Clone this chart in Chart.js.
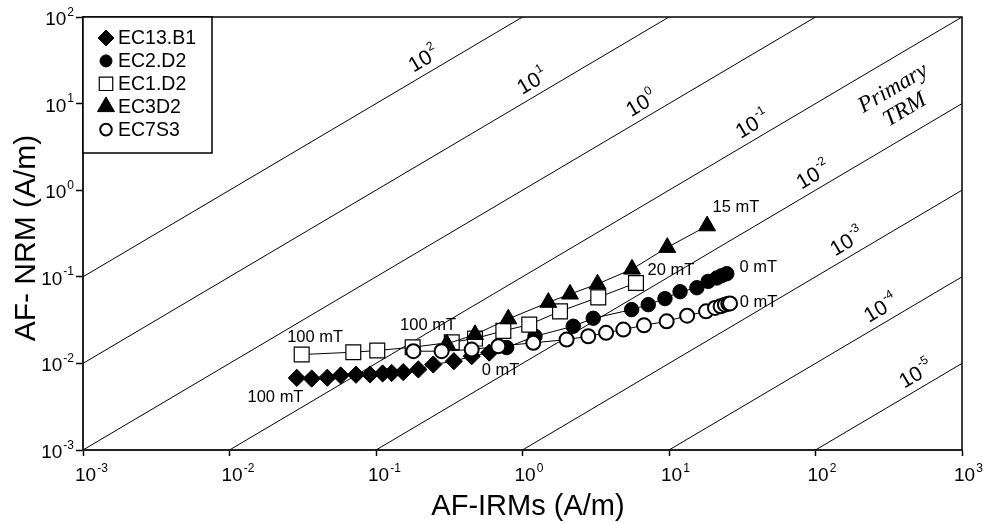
<!DOCTYPE html>
<html>
<head>
<meta charset="utf-8">
<script src="https://cdn.jsdelivr.net/npm/chart.js@4.4.1/dist/chart.umd.min.js"></script>
<style>
  html, body { margin: 0; padding: 0; background: #fff; }
  canvas { display: block; }
</style>
</head>
<body>
<canvas id="c" width="983" height="523"></canvas>
<script>
// Axis decades (A/m)
const xTicks = [1e-3, 1e-2, 1e-1, 1e0, 1e1, 1e2, 1e3];
const yTicks = [1e-3, 1e-2, 1e-1, 1e0, 1e1, 1e2];

// Constant NRM/IRM ratio lines (exponent of the ratio) and where their labels sit (x, A/m)
const ratioExps = [2, 1, 0, -1, -2, -3, -4, -5];
const ratioLabelX = [0.2225, 1.229, 6.82, 38.1, 99, 168, 286, 497];

// AF-IRM (x) and AF-NRM (y) demagnetisation data, A/m
const ec13b1X = [0.0288, 0.0364, 0.0465, 0.0574, 0.0730, 0.0910, 0.111, 0.128, 0.1535, 0.1945, 0.246, 0.340, 0.450, 0.593];
const ec13b1Y = [0.00680, 0.00668, 0.00683, 0.00726, 0.00740, 0.00745, 0.00765, 0.00775, 0.00792, 0.00851, 0.00971, 0.0106, 0.0121, 0.0133];

const ec2d2X = [0.780, 1.217, 2.22, 3.04, 5.56, 7.22, 9.39, 11.9, 15.5, 18.5, 21.2, 22.9, 24.8];
const ec2d2Y = [0.01524, 0.02058, 0.02685, 0.0332, 0.0418, 0.0477, 0.0560, 0.0673, 0.0748, 0.0885, 0.0969, 0.103, 0.1086];

const ec1d2X = [0.0311, 0.070, 0.102, 0.178, 0.329, 0.474, 0.740, 1.112, 1.803, 3.29, 5.95];
const ec1d2Y = [0.01266, 0.01346, 0.01409, 0.01538, 0.01755, 0.01936, 0.02375, 0.02805, 0.0399, 0.0579, 0.0849];

const ec3d2X = [0.304, 0.474, 0.80, 1.50, 2.11, 3.25, 5.59, 9.73, 18.2];
const ec3d2Y = [0.0168, 0.0215, 0.0326, 0.0506, 0.0631, 0.0825, 0.1225, 0.218, 0.387];

const ec7s3X = [0.180, 0.2805, 0.450, 0.684, 1.185, 2.00, 2.81, 3.72, 4.88, 6.75, 9.64, 13.3, 17.9, 20.6, 22.5, 24.1, 25.4, 26.1];
const ec7s3Y = [0.01383, 0.01383, 0.01445, 0.0158, 0.01726, 0.01884, 0.02058, 0.02254, 0.0246, 0.02754, 0.0306, 0.0356, 0.0399, 0.0437, 0.0456, 0.0477, 0.0490, 0.0493];

// AF step annotations placed in data space
const stepText = ['100 mT', '100 mT', '100 mT', '0 mT', '20 mT', '15 mT', '0 mT', '0 mT'];
const stepX = [0.0384, 0.2265, 0.0206, 0.708, 10.3, 28.6, 40.7, 40.8];
const stepY = [0.01986, 0.02735, 0.00404, 0.00828, 0.1175, 0.634, 0.1274, 0.0509];

const sansFont = '"Liberation Sans", Arial, Helvetica, sans-serif';
const serifFont = '"Liberation Serif", "Times New Roman", serif';

function pts(xs, ys) { return xs.map((x, i) => ({ x: x, y: ys[i] })); }

const seriesDefs = [
  { label: 'EC13.B1', xs: ec13b1X, ys: ec13b1Y, style: 'rectRot', r: 8.6, lr: 8, fill: '#000', bw: 1, order: 5 },
  { label: 'EC2.D2', xs: ec2d2X, ys: ec2d2Y, style: 'circle', r: 7.2, lr: 6, fill: '#000', bw: 1, order: 4 },
  { label: 'EC1.D2', xs: ec1d2X, ys: ec1d2Y, style: 'rect', r: 10.5, lr: 9.5, fill: '#fff', bw: 1.2, order: 3 },
  { label: 'EC3D2', xs: ec3d2X, ys: ec3d2Y, style: 'triangle', r: 9.8, lr: 9.8, fill: '#000', bw: 1, order: 2 },
  { label: 'EC7S3', xs: ec7s3X, ys: ec7s3Y, style: 'circle', r: 7, lr: 5.8, fill: '#fff', bw: 2, order: 1 }
];

const xMin = xTicks[0], xMax = xTicks[xTicks.length - 1];

const datasets = seriesDefs.map(s => ({
  label: s.label,
  data: pts(s.xs, s.ys),
  showLine: true,
  borderColor: '#000',
  borderWidth: 1,
  pointStyle: s.style,
  pointRadius: s.r,
  pointBackgroundColor: s.fill,
  pointBorderColor: '#000',
  pointBorderWidth: s.bw,
  order: s.order
}));

ratioExps.forEach(e => {
  const k = Math.pow(10, e);
  datasets.push({
    label: 'ratio 1e' + e,
    data: [{ x: xMin, y: k * xMin }, { x: xMax, y: k * xMax }],
    showLine: true,
    borderColor: '#000',
    borderWidth: 1,
    pointRadius: 0,
    order: 10
  });
});

// "10" with a raised exponent
function drawPower(ctx, exp, x, y, base, sup, align) {
  ctx.font = base + 'px ' + sansFont;
  const w1 = ctx.measureText('10').width;
  ctx.font = sup + 'px ' + sansFont;
  const w2 = ctx.measureText(exp).width;
  const total = w1 + 1 + w2;
  let left = x;
  if (align === 'right') left = x - total;
  else if (align === 'center') left = x - total / 2;
  ctx.textAlign = 'left';
  ctx.textBaseline = 'alphabetic';
  ctx.font = base + 'px ' + sansFont;
  ctx.fillText('10', left, y);
  ctx.font = sup + 'px ' + sansFont;
  ctx.fillText(exp, left + w1 + 1, y - base * 0.5);
}

const decorations = {
  id: 'decorations',
  beforeDraw(chart) {
    const ctx = chart.ctx;
    ctx.save();
    ctx.fillStyle = '#fff';
    ctx.fillRect(0, 0, chart.width, chart.height);
    ctx.restore();
  },
  afterDraw(chart) {
    const ctx = chart.ctx;
    const xs = chart.scales.x, ys = chart.scales.y;
    const a = chart.chartArea;
    ctx.save();

    // frame on top and right
    ctx.strokeStyle = '#000';
    ctx.lineWidth = 1.5;
    ctx.beginPath();
    ctx.moveTo(a.left, a.top);
    ctx.lineTo(a.right, a.top);
    ctx.lineTo(a.right, a.bottom);
    ctx.stroke();

    // tick labels
    ctx.fillStyle = '#000';
    xTicks.forEach(v => {
      const px = xs.getPixelForValue(v);
      drawPower(ctx, String(Math.round(Math.log10(v))), px - 8, a.bottom + 31, 19, 12, 'left');
    });
    yTicks.forEach(v => {
      const py = ys.getPixelForValue(v);
      drawPower(ctx, String(Math.round(Math.log10(v))), 74, py + 8, 19, 12, 'right');
    });

    // ratio line labels, rotated along the lines
    const p1x = xs.getPixelForValue(1), p1y = ys.getPixelForValue(1);
    const p2x = xs.getPixelForValue(10), p2y = ys.getPixelForValue(10);
    const ang = Math.atan2(p2y - p1y, p2x - p1x);
    const nx = Math.sin(ang), ny = -Math.cos(ang);
    ctx.save();
    ctx.beginPath();
    ctx.rect(a.left, a.top, a.right - a.left, a.bottom - a.top);
    ctx.clip();
    ratioExps.forEach((e, i) => {
      const lx = ratioLabelX[i];
      const px = xs.getPixelForValue(lx);
      const py = ys.getPixelForValue(Math.pow(10, e) * lx);
      const cx = px + nx * 14.5, cy = py + ny * 14.5;
      ctx.save();
      ctx.translate(cx, cy);
      ctx.rotate(ang);
      drawPower(ctx, String(e), -11, 7, 21, 12, 'left');
      ctx.restore();
    });

    // primary TRM note
    ctx.font = 'italic 23px ' + serifFont;
    ctx.textAlign = 'center';
    ctx.textBaseline = 'middle';
    [['Primary', 339.6, 14.96], ['TRM', 408, 8.41]].forEach(t => {
      ctx.save();
      ctx.translate(xs.getPixelForValue(t[1]), ys.getPixelForValue(t[2]));
      ctx.rotate(ang);
      ctx.fillText(t[0], 0, 0);
      ctx.restore();
    });
    ctx.restore();

    // AF step annotations
    ctx.font = '16.5px ' + sansFont;
    ctx.textAlign = 'center';
    ctx.textBaseline = 'middle';
    stepText.forEach((t, i) => {
      ctx.fillText(t, xs.getPixelForValue(stepX[i]), ys.getPixelForValue(stepY[i]));
    });

    // legend box
    const lx0 = a.left, ly0 = a.top, lw = 129, lh = 136;
    ctx.fillStyle = '#fff';
    ctx.fillRect(lx0, ly0, lw, lh);
    ctx.strokeStyle = '#000';
    ctx.lineWidth = 1.5;
    ctx.strokeRect(lx0, ly0, lw, lh);
    seriesDefs.forEach((s, i) => {
      const y = ly0 + 21 + i * 22.9;
      ctx.fillStyle = s.fill;
      ctx.strokeStyle = '#000';
      ctx.lineWidth = s.bw;
      Chart.helpers.drawPoint(ctx, { pointStyle: s.style, radius: s.lr, borderWidth: s.bw, rotation: 0 }, lx0 + 23, y);
      ctx.fillStyle = '#000';
      ctx.font = '19.5px ' + sansFont;
      ctx.textAlign = 'left';
      ctx.textBaseline = 'middle';
      ctx.fillText(s.label, lx0 + 35, y + 1);
    });

    // axis titles
    ctx.fillStyle = '#000';
    ctx.font = '29px ' + sansFont;
    ctx.textAlign = 'center';
    ctx.textBaseline = 'alphabetic';
    ctx.fillText('AF-IRMs (A/m)', 528, 515);
    ctx.save();
    ctx.translate(35, 238);
    ctx.rotate(-Math.PI / 2);
    ctx.font = '30px ' + sansFont;
    ctx.fillText('AF- NRM (A/m)', 0, 0);
    ctx.restore();

    ctx.restore();
  }
};

new Chart(document.getElementById('c'), {
  type: 'scatter',
  data: { datasets: datasets },
  options: {
    responsive: false,
    animation: false,
    events: [],
    layout: { padding: { left: 0, top: 17, right: 21, bottom: 0 } },
    plugins: { legend: { display: false }, tooltip: { enabled: false } },
    scales: {
      x: {
        type: 'logarithmic',
        min: xMin,
        max: xMax,
        afterBuildTicks(scale) { scale.ticks = xTicks.map(v => ({ value: v })); },
        afterFit(scale) { scale.height = 73; },
        ticks: { display: false },
        grid: { display: true, drawOnChartArea: false, drawTicks: true, tickLength: 6, tickColor: '#000', tickWidth: 1.5 },
        border: { display: true, color: '#222', width: 2 }
      },
      y: {
        type: 'logarithmic',
        min: yTicks[0],
        max: yTicks[yTicks.length - 1],
        afterBuildTicks(scale) { scale.ticks = yTicks.map(v => ({ value: v })); },
        afterFit(scale) { scale.width = 83; },
        ticks: { display: false },
        grid: { display: true, drawOnChartArea: false, drawTicks: true, tickLength: 7, tickColor: '#000', tickWidth: 1.5 },
        border: { display: true, color: '#222', width: 2 }
      }
    }
  },
  plugins: [decorations]
});
</script>
</body>
</html>
